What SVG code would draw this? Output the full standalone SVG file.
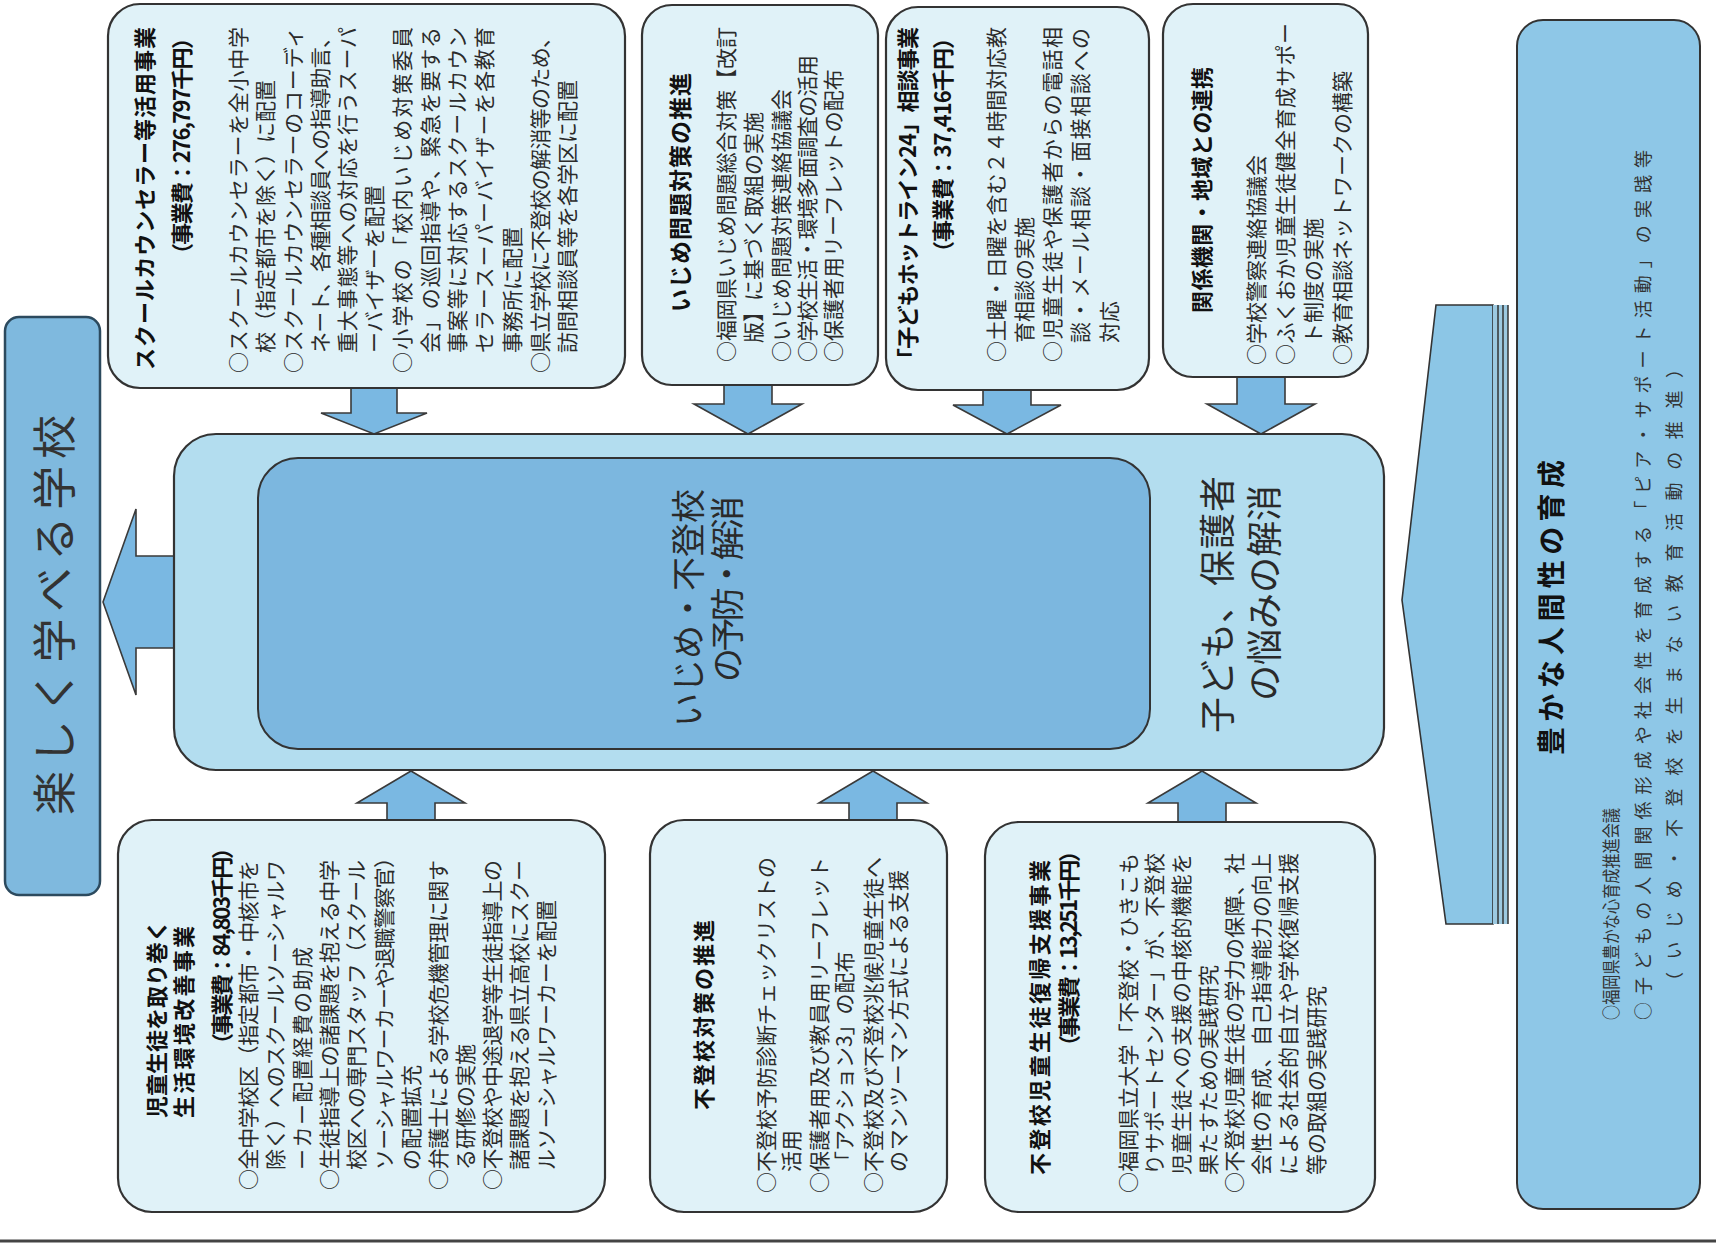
<svg xmlns="http://www.w3.org/2000/svg" width="1716" height="1246" viewBox="0 0 1716 1246">
<style>
text{font-family:"Noto Sans CJK JP","Noto Sans",sans-serif;dominant-baseline:central;fill:#2b2b2b}
.t{font-size:21px}
.tb{font-size:22px;font-weight:bold;fill:#111}
.box{fill:#e0f2f8;stroke:#333;stroke-width:2.2}
.arr{fill:#7ab8e2;stroke:#3a3a3a;stroke-width:1.6}
.big{font-size:34px;fill:#2a2a2a}
.rp{font-size:18px;fill:#333}
</style>
<rect width="1716" height="1246" fill="#ffffff"/>

<g id="connectors">
  <polygon class="arr" points="351,388 397,388 397,413 427,413 374,434 321,413 351,413"/>
  <polygon class="arr" points="724,385 772,385 772,404 802,404 748,434 694,404 724,404"/>
  <polygon class="arr" points="983,390 1031,390 1031,405 1061,405 1007,434 953,405 983,405"/>
  <polygon class="arr" points="1237,377 1285,377 1285,404 1315,404 1261,434 1207,404 1237,404"/>
  <polygon class="arr" points="387,820 435,820 435,803 465,803 411,771 357,803 387,803"/>
  <polygon class="arr" points="849,820 897,820 897,803 927,803 873,771 819,803 849,803"/>
  <polygon class="arr" points="1178,822 1226,822 1226,803 1256,803 1202,771 1148,803 1178,803"/>
  <polygon class="arr" points="176,556 136,556 136,509 103,602 136,695 136,648 176,648"/>
  <polygon points="1436,305 1493,305 1493,924 1446,924 1402,600" fill="#8cc6e6" stroke="#333" stroke-width="1.6"/>
  <rect x="1493" y="305" width="15" height="619" fill="#9cc9e0"/>
  <line x1="1498" y1="305" x2="1498" y2="924" stroke="#333" stroke-width="1.5"/>
  <line x1="1503" y1="305" x2="1503" y2="924" stroke="#333" stroke-width="1.5"/>
  <line x1="1508" y1="305" x2="1508" y2="924" stroke="#333" stroke-width="1.5"/>
</g>

<g id="center">
  <rect x="174" y="434" width="1210" height="336" rx="42" fill="#b3ddef" stroke="#333" stroke-width="2.2"/>
  <rect x="258" y="458" width="892" height="291" rx="40" fill="#7cb7df" stroke="#333" stroke-width="2"/>
  <g transform="rotate(-90)">
    <text class="big" x="-727" y="686" textLength="238">いじめ・不登校</text>
    <text class="big" x="-682" y="725" textLength="186">の予防・解消</text>
    <text class="big" style="font-size:36px" x="-733" y="1215" textLength="257">子ども、保護者</text>
    <text class="big" style="font-size:36px" x="-701" y="1262">の悩みの解消</text>
  </g>
</g>

<g id="goal">
  <rect x="5" y="317" width="95" height="578" rx="14" fill="#7fb9de" stroke="#2c4a5e" stroke-width="2.5"/>
  <g transform="rotate(-90)">
    <text x="-815" y="52" style="font-size:44px;fill:#333" textLength="400">楽しく学べる学校</text>
  </g>
</g>

<g id="sc">
  <rect class="box" x="108" y="4" width="517" height="384" rx="32"/>
  <g transform="rotate(-90)">
    <text class="tb" x="-370" y="143" textLength="343">スクールカウンセラー等活用事業</text>
    <text class="tb" x="-265" y="180" textLength="238">（事業費：276,797千円）</text>
    <text class="t" x="-373" y="237" textLength="346">○スクールカウンセラーを全小中学</text>
    <text class="t" x="-353" y="264">校（指定都市を除く）に配置</text>
    <text class="t" x="-373" y="292" textLength="346">○スクールカウンセラーのコーディ</text>
    <text class="t" x="-353" y="319" textLength="326">ネート、各種相談員への指導助言、</text>
    <text class="t" x="-353" y="346" textLength="326">重大事態等への対応を行うスーパ</text>
    <text class="t" x="-353" y="373">ーバイザーを配置</text>
    <text class="t" x="-373" y="401" textLength="346">○小学校の「校内いじめ対策委員</text>
    <text class="t" x="-353" y="429" textLength="326">会」の巡回指導や、緊急を要する</text>
    <text class="t" x="-353" y="456" textLength="326">事案等に対応するスクールカウン</text>
    <text class="t" x="-353" y="483" textLength="326">セラースーパーバイザーを各教育</text>
    <text class="t" x="-353" y="511">事務所に配置</text>
    <text class="t" x="-373" y="539" textLength="346">○県立学校に不登校の解消等のため、</text>
    <text class="t" x="-353" y="566">訪問相談員等を各学区に配置</text>
  </g>
</g>

<g id="ijime">
  <rect class="box" x="642" y="5" width="236" height="380" rx="30"/>
  <g transform="rotate(-90)">
    <text class="tb" style="font-size:23px" x="-312" y="679" textLength="239">いじめ問題対策の推進</text>
    <text class="t" x="-362" y="725" textLength="335">○福岡県いじめ問題総合対策【改訂</text>
    <text class="t" x="-343" y="752">版】に基づく取組の実施</text>
    <text class="t" x="-362" y="780">○いじめ問題対策連絡協議会</text>
    <text class="t" x="-362" y="806" textLength="307">○学校生活・環境多面調査の活用</text>
    <text class="t" x="-362" y="832">○保護者用リーフレットの配布</text>
  </g>
</g>

<g id="hotline">
  <rect class="box" x="886" y="7" width="263" height="383" rx="32"/>
  <g transform="rotate(-90)">
    <text class="tb" x="-370" y="906" textLength="343">「子どもホットライン24」相談事業</text>
    <text class="tb" x="-263" y="941" textLength="236">（事業費：37,416千円）</text>
    <text class="t" x="-362" y="995" textLength="335">○土曜・日曜を含む２４時間対応教</text>
    <text class="t" x="-343" y="1023">育相談の実施</text>
    <text class="t" x="-362" y="1051" textLength="335">○児童生徒や保護者からの電話相</text>
    <text class="t" x="-343" y="1079" textLength="315">談・メール相談・面接相談への</text>
    <text class="t" x="-343" y="1108">対応</text>
  </g>
</g>

<g id="renkei">
  <rect class="box" x="1163" y="4" width="205" height="373" rx="30"/>
  <g transform="rotate(-90)">
    <text class="tb" x="-313" y="1200" textLength="246">関係機関・地域との連携</text>
    <text class="t" x="-365" y="1255">○学校警察連絡協議会</text>
    <text class="t" x="-365" y="1284" textLength="342">○ふくおか児童生徒健全育成サポー</text>
    <text class="t" x="-344" y="1312">ト制度の実施</text>
    <text class="t" x="-365" y="1341">○教育相談ネットワークの構築</text>
  </g>
</g>

<g id="kankyo">
  <rect class="box" x="118" y="820" width="487" height="392" rx="34"/>
  <g transform="rotate(-90)">
    <text class="tb" x="-1118" y="155" textLength="198">児童生徒を取り巻く</text>
    <text class="tb" x="-1118" y="182" textLength="192">生活環境改善事業</text>
    <text class="tb" x="-1055" y="220" textLength="218">（事業費：84,803千円）</text>
    <text class="t" x="-1190" y="247" textLength="330">○全中学校区（指定都市・中核市を</text>
    <text class="t" x="-1170" y="274" textLength="310">除く）へのスクールソーシャルワ</text>
    <text class="t" x="-1170" y="301" textLength="223">ーカー配置経費の助成</text>
    <text class="t" x="-1190" y="328" textLength="330">○生徒指導上の諸課題を抱える中学</text>
    <text class="t" x="-1170" y="355" textLength="310">校区への専門スタッフ（スクール</text>
    <text class="t" x="-1170" y="383" textLength="323">ソーシャルワーカーや退職警察官）</text>
    <text class="t" x="-1170" y="410">の配置拡充</text>
    <text class="t" x="-1190" y="437" textLength="330">○弁護士による学校危機管理に関す</text>
    <text class="t" x="-1170" y="464">る研修の実施</text>
    <text class="t" x="-1190" y="491" textLength="330">○不登校や中途退学等生徒指導上の</text>
    <text class="t" x="-1170" y="518" textLength="310">諸課題を抱える県立高校にスクー</text>
    <text class="t" x="-1170" y="545" textLength="270">ルソーシャルワーカーを配置</text>
  </g>
</g>

<g id="futoko">
  <rect class="box" x="650" y="820" width="297" height="392" rx="34"/>
  <g transform="rotate(-90)">
    <text class="tb" x="-1110" y="702" textLength="190">不登校対策の推進</text>
    <text class="t" x="-1193" y="765" textLength="336">○不登校予防診断チェックリストの</text>
    <text class="t" x="-1172" y="790">活用</text>
    <text class="t" x="-1193" y="818" textLength="336">○保護者用及び教員用リーフレット</text>
    <text class="t" x="-1172" y="843">「アクション3」の配布</text>
    <text class="t" x="-1193" y="872" textLength="336">○不登校及び不登校兆候児童生徒へ</text>
    <text class="t" x="-1172" y="897" textLength="302">のマンツーマン方式による支援</text>
  </g>
</g>

<g id="fukki">
  <rect class="box" x="985" y="822" width="390" height="390" rx="34"/>
  <g transform="rotate(-90)">
    <text class="tb" x="-1175" y="1038" textLength="315">不登校児童生徒復帰支援事業</text>
    <text class="tb" x="-1057" y="1067" textLength="217">（事業費：13,251千円）</text>
    <text class="t" x="-1193" y="1127" textLength="340">○福岡県立大学「不登校・ひきこも</text>
    <text class="t" x="-1175" y="1153" textLength="322">りサポートセンター」が、不登校</text>
    <text class="t" x="-1175" y="1180" textLength="322">児童生徒への支援の中核的機能を</text>
    <text class="t" x="-1175" y="1207">果たすための実践研究</text>
    <text class="t" x="-1193" y="1233" textLength="340">○不登校児童生徒の学力の保障、社</text>
    <text class="t" x="-1175" y="1260" textLength="322">会性の育成、自己指導能力の向上</text>
    <text class="t" x="-1175" y="1287" textLength="322">による社会的自立や学校復帰支援</text>
    <text class="t" x="-1175" y="1315">等の取組の実践研究</text>
  </g>
</g>

<g id="ningensei">
  <rect x="1517" y="20" width="183" height="1189" rx="26" fill="#8ec7e7" stroke="#333" stroke-width="2"/>
  <g transform="rotate(-90)">
    <text class="tb" style="font-size:28px" x="-755" y="1550" textLength="295">豊かな人間性の育成</text>
    <text class="rp" x="-1020" y="1610" textLength="212" lengthAdjust="spacingAndGlyphs">○福岡県豊かな心育成推進会議</text>
    <text class="rp" x="-1020" y="1642" textLength="870">○子どもの人間関係形成や社会性を育成する「ピア・サポート活動」の実践等</text>
    <text class="rp" x="-990" y="1673" textLength="630">（いじめ・不登校を生まない教育活動の推進）</text>
  </g>
</g>

<line x1="0" y1="1241" x2="1716" y2="1241" stroke="#444" stroke-width="3"/>
</svg>
